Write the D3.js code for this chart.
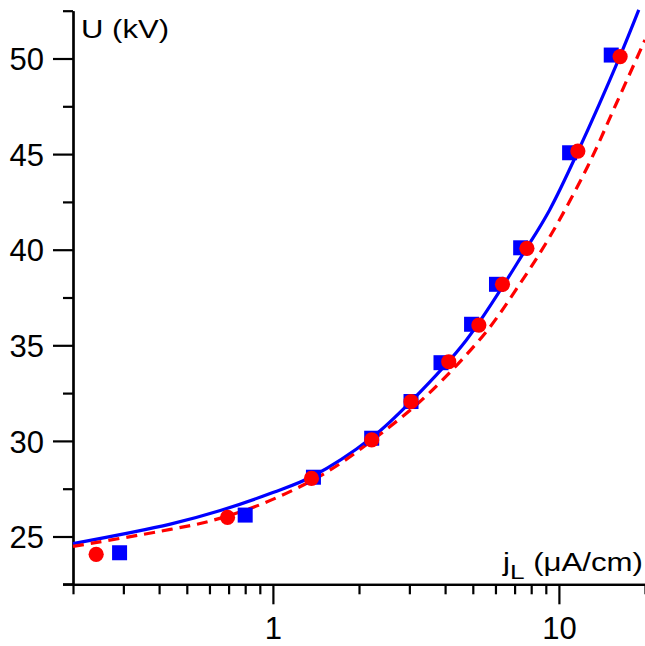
<!DOCTYPE html>
<html>
<head>
<meta charset="utf-8">
<script src="https://cdn.jsdelivr.net/npm/d3@7"></script>
<style>
  body { margin: 0; background: #fff; }
  text { font-family: "Liberation Sans", Arial, sans-serif; }
</style>
</head>
<body>
<script>
// measured points (j in uA/cm, U in kV)
var squaresJ = [0.291, 0.80, 1.386, 2.215, 3.04, 3.87, 4.95, 6.05, 7.35, 10.9, 15.24];
var squaresU = [24.15, 26.12, 28.10, 30.14, 32.06, 34.09, 36.10, 38.19, 40.10, 45.07, 50.18];
var circlesJ = [0.241, 0.694, 1.364, 2.215, 3.04, 4.12, 5.25, 6.35, 7.73, 11.65, 16.37];
var circlesU = [24.07, 26.00, 28.04, 30.05, 32.05, 34.14, 36.06, 38.19, 40.07, 45.16, 50.10];

// curves
var blueJ = [0.2, 0.438, 0.655, 1.0, 1.36, 2.22, 3.05, 4.75, 7.70, 9.28, 11.65, 16.29, 19.02];
var blueU = [24.63, 25.65, 26.36, 27.30, 28.11, 30.18, 32.09, 35.28, 40.07, 42.08, 45.13, 50.06, 52.54];
var redJ = [0.2, 0.438, 0.604, 0.925, 1.543, 2.50, 3.49, 5.51, 7.10, 9.28, 12.63, 15.85, 20];
var redU = [24.48, 25.37, 25.81, 26.73, 28.37, 30.62, 32.45, 35.62, 37.94, 40.66, 44.38, 47.62, 50.97];

var xMajor = [1, 10];
var xMinor = [0.2, 0.3, 0.4, 0.5, 0.6, 0.7, 0.8, 0.9, 2, 3, 4, 5, 6, 7, 8, 9, 20];
var yMajor = [25, 30, 35, 40, 45, 50];
var yMinor = [22.5, 27.5, 32.5, 37.5, 42.5, 47.5, 52.5];

function zip(a, b) {
    return a.map(function(d, i) { return [d, b[i]]; });
}

function drawChart() {
    var width = 645, height = 646;
    var pLeft = 73, pTop = 10.7, pRight = 645, pBottom = 584.3;

    var svg = d3.select("body").append("svg")
        .attr("width", width)
        .attr("height", height);

    var x = d3.scaleLog().domain([0.2, 20]).range([pLeft, pRight]);
    var y = d3.scaleLinear().domain([22.5, 52.5]).range([pBottom, pTop]);

    // axes
    var gx = svg.append("g").attr("transform", "translate(0," + pBottom + ")");
    gx.call(d3.axisBottom(x).tickValues(xMinor).tickSize(10).tickSizeOuter(0).tickFormat(""));
    var gx2 = svg.append("g").attr("transform", "translate(0," + pBottom + ")");
    gx2.call(d3.axisBottom(x).tickValues(xMajor).tickSize(20).tickSizeOuter(0).tickFormat(d3.format("d")));

    var gy = svg.append("g").attr("transform", "translate(" + pLeft + ",0)");
    gy.call(d3.axisLeft(y).tickValues(yMinor).tickSize(10).tickSizeOuter(0).tickFormat(""));
    var gy2 = svg.append("g").attr("transform", "translate(" + pLeft + ",0)");
    gy2.call(d3.axisLeft(y).tickValues(yMajor).tickSize(20).tickSizeOuter(0).tickPadding(9));

    svg.selectAll(".domain").attr("stroke", "#000").attr("stroke-width", 2.2);
    svg.selectAll(".tick line").attr("stroke", "#000").attr("stroke-width", 2.2);
    svg.selectAll(".tick text").attr("fill", "#000").style("font-size", "31px");
    gx2.selectAll(".tick text").attr("dy", null).attr("y", 55);
    gy2.selectAll(".tick text").attr("dy", "0.36em");

    // x axis line runs on to the bottom minor y tick
    svg.append("line")
        .attr("x1", pLeft - 10).attr("x2", pLeft)
        .attr("y1", pBottom).attr("y2", pBottom)
        .attr("stroke", "#000").attr("stroke-width", 2.2);

    // curves
    var line = d3.line()
        .x(function(d) { return x(d[0]); })
        .y(function(d) { return y(d[1]); })
        .curve(d3.curveCatmullRom.alpha(0.5));

    svg.append("path")
        .datum(zip(blueJ, blueU))
        .attr("d", line)
        .attr("fill", "none")
        .attr("stroke", "#0000ff")
        .attr("stroke-width", 3.2);

    svg.append("path")
        .datum(zip(redJ, redU))
        .attr("d", line)
        .attr("fill", "none")
        .attr("stroke", "#ff0000")
        .attr("stroke-width", 3.2)
        .attr("stroke-dasharray", "11,7");

    // markers
    var s = 15;
    svg.selectAll("rect.sq")
        .data(zip(squaresJ, squaresU))
        .enter()
        .append("rect")
        .attr("class", "sq")
        .attr("x", function(d) { return x(d[0]) - s / 2; })
        .attr("y", function(d) { return y(d[1]) - s / 2; })
        .attr("width", s)
        .attr("height", s)
        .attr("fill", "#0000ff");

    svg.selectAll("circle.ci")
        .data(zip(circlesJ, circlesU))
        .enter()
        .append("circle")
        .attr("class", "ci")
        .attr("cx", function(d) { return x(d[0]); })
        .attr("cy", function(d) { return y(d[1]); })
        .attr("r", 7.6)
        .attr("fill", "#ff0000");

    // axis titles
    svg.append("text")
        .attr("x", 81)
        .attr("y", 38)
        .attr("textLength", 88)
        .attr("lengthAdjust", "spacingAndGlyphs")
        .style("font-size", "26px")
        .text("U (kV)");

    var xt = svg.append("text")
        .attr("x", 503)
        .attr("y", 571)
        .attr("textLength", 140)
        .attr("lengthAdjust", "spacingAndGlyphs")
        .style("font-size", "25px");
    xt.append("tspan").text("j");
    xt.append("tspan").attr("dy", 8).style("font-size", "21px").text("L");
    xt.append("tspan").attr("dy", -8).text(" (\u03bcA/cm)");
}

window.onload = function() {
    drawChart();
};
</script>
</body>
</html>
